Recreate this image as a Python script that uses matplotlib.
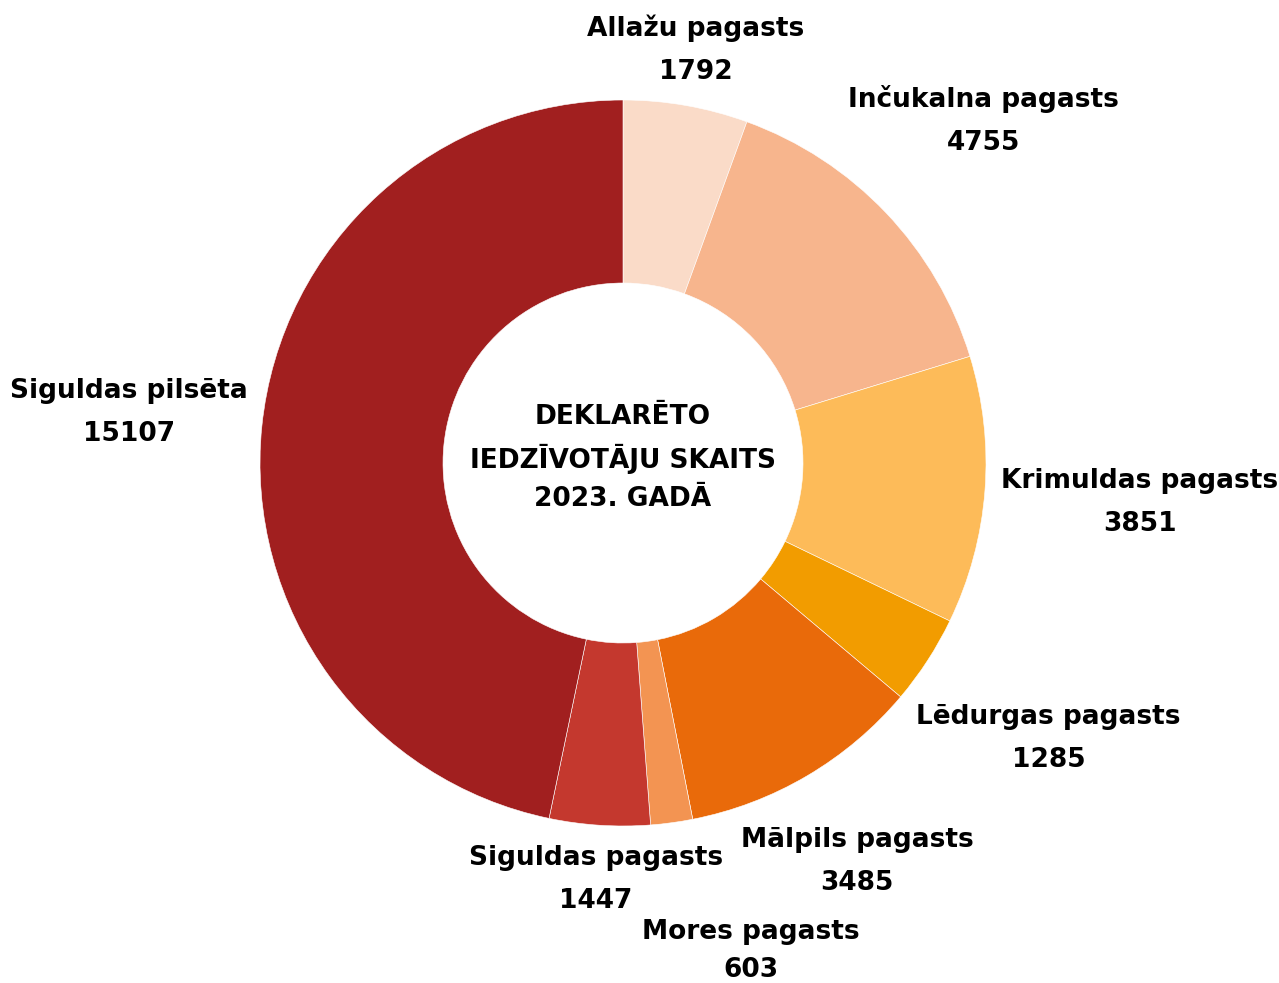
import numpy as np
import matplotlib.pyplot as plt

labels = ["Allažu pagasts", "Inčukalna pagasts", "Krimuldas pagasts",
          "Lēdurgas pagasts", "Mālpils pagasts", "Mores pagasts",
          "Siguldas pagasts", "Siguldas pilsēta"]
values = [1792, 4755, 3851, 1285, 3485, 603, 1447, 15107]
colors = ["#FADBC8", "#F7B58D", "#FDBB59", "#F29C00", "#E96A0A",
          "#F39452", "#C4382E", "#A11F1F"]
center_text = "DEKLARĒTO\nIEDZĪVOTĀJU SKAITS\n2023. GADĀ"

# label distance from centre (px) and angle tweak (deg, clockwise from top)
label_dist = [420, 497, 518, 507, 462, 505, 417, 497]
angle_shift = [0, 0, 0, 0, 0, -7, 0, 0]
label_spacing = [1.85, 1.85, 1.85, 1.85, 1.85, 1.6, 1.85, 1.85]

W, H = 1279, 983
cx, cy = 623, H - 463
R = 363

fig = plt.figure(figsize=(W / 100, H / 100), dpi=100)
ax = fig.add_axes([0, 0, 1, 1])
ax.pie(values, colors=colors, startangle=90, counterclock=False,
       center=(cx, cy), radius=R,
       wedgeprops=dict(width=R - 180, edgecolor="white", linewidth=0.4))
ax.set_xlim(0, W)
ax.set_ylim(0, H)
ax.set_aspect("equal")
ax.axis("off")

font = dict(family="DejaVu Sans", fontweight="bold", fontsize=19, color="black")

total = sum(values)
cum = np.cumsum([0] + values)
for i, (lab, v) in enumerate(zip(labels, values)):
    mid = (cum[i] + v / 2) / total * 360 + angle_shift[i]
    a = np.deg2rad(mid)
    x = cx + label_dist[i] * np.sin(a)
    y = cy + label_dist[i] * np.cos(a)
    ax.text(x, y, f"{lab}\n{v}", ha="center", va="center",
            linespacing=label_spacing[i], **font)

ax.text(cx, cy + 5, center_text, ha="center", va="center",
        linespacing=1.6, **font)

fig.savefig("out.png", dpi=100)
